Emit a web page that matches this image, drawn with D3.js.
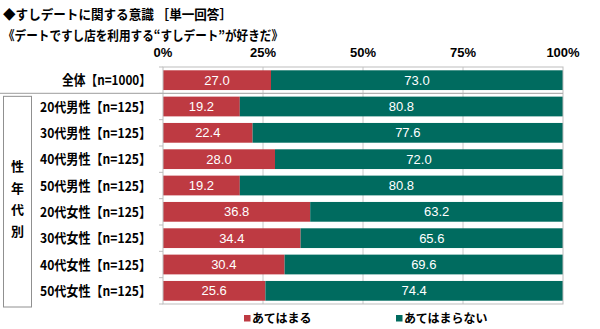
<!DOCTYPE html>
<html><head><meta charset="utf-8">
<script src="https://cdn.jsdelivr.net/npm/d3@7"></script>
<style>body{margin:0;background:#fff}svg{display:block}</style>
</head><body>
<script>
const categories = ["全体【n=1000】","20代男性【n=125】","30代男性【n=125】","40代男性【n=125】","50代男性【n=125】","20代女性【n=125】","30代女性【n=125】","40代女性【n=125】","50代女性【n=125】"];
const yesValues = [27.0,19.2,22.4,28.0,19.2,36.8,34.4,30.4,25.6];
const noValues  = [73.0,80.8,77.6,72.0,80.8,63.2,65.6,69.6,74.4];
const seriesNames = ["あてはまる","あてはまらない"];
const tickValues = [0,25,50,75,100];
const titleText = "◆すしデートに関する意識 ［単一回答］";
const subtitleText = "《デートですし店を利用する“すしデート”が好きだ》";
const groupLabel = ["性","年","代","別"];

(function(){
const W=600,H=329;
const font = "'Noto Sans CJK JP', sans-serif";
const colors = ["#BE3A42","#006B5F"];
const svg = d3.select("body").append("svg").attr("width",W).attr("height",H)
  .style("font-family",font);

const pL=163,pR=563,pT=67,pB=304;
const x = d3.scaleLinear().domain([0,100]).range([pL,pR]);
const y = d3.scaleBand().domain(categories).range([pT,pB]).paddingInner(0.25).paddingOuter(0.125);

svg.append("text").attr("x",3).attr("y",18.5).attr("font-size",13).attr("font-weight","bold")
  .attr("textLength",229).attr("lengthAdjust","spacingAndGlyphs").text(titleText);
svg.append("text").attr("x",3).attr("y",39.5).attr("font-size",13).attr("font-weight","bold")
  .attr("textLength",280).attr("lengthAdjust","spacingAndGlyphs").text(subtitleText);

// gridlines
svg.append("g").selectAll("line").data(tickValues.slice(1,4)).join("line")
  .attr("x1",d=>x(d)).attr("x2",d=>x(d)).attr("y1",pT).attr("y2",pB)
  .attr("stroke","#c8c8c8").attr("stroke-width",1);

// top axis labels
svg.append("g").selectAll("text").data(tickValues).join("text")
  .attr("x",d=>x(d)).attr("y",57).attr("text-anchor","middle")
  .attr("font-size",13).attr("font-weight","bold").attr("font-family","Arial, 'Liberation Sans', sans-serif")
  .text(d=>d+"%");

const stacked = categories.map((c,i)=>({c, parts:[{s:0,v:yesValues[i],k:0},{s:yesValues[i],v:noValues[i],k:1}]}));
const rows = svg.append("g").selectAll("g").data(stacked).join("g");
rows.selectAll("rect").data(d=>d.parts.map(p=>({...p,c:d.c}))).join("rect")
  .attr("x",p=>x(p.s)).attr("width",p=>x(p.s+p.v)-x(p.s))
  .attr("y",p=>y(p.c)).attr("height",y.bandwidth())
  .attr("fill",p=>colors[p.k]);
rows.selectAll("text").data(d=>d.parts.map(p=>({...p,c:d.c}))).join("text")
  .attr("x",p=>x(p.s+p.v/2)).attr("y",p=>y(p.c)+y.bandwidth()/2+4.5)
  .attr("text-anchor","middle").attr("fill","#fff").attr("font-size",13)
  .attr("font-family","Arial, 'Liberation Sans', sans-serif")
  .text(p=>p.v.toFixed(1));

// frame
const step = y.step();
svg.append("rect").attr("x",pL).attr("y",pT).attr("width",pR-pL).attr("height",pB-pT)
  .attr("fill","none").attr("stroke","#bdbdbd").attr("stroke-width",1);
// left ticks
svg.append("g").selectAll("line").data(d3.range(categories.length+1)).join("line")
  .attr("x1",pL-4).attr("x2",pL).attr("y1",i=>pT+i*step).attr("y2",i=>pT+i*step)
  .attr("stroke","#bdbdbd");
// divider under 全体
const divY = y(categories[1]) - (step - y.bandwidth())/2;
svg.append("line").attr("x1",0).attr("x2",pR).attr("y1",divY).attr("y2",divY)
  .attr("stroke","#b0b0b0").attr("stroke-width",1.2);

// category labels
svg.append("g").selectAll("text").data(categories).join("text")
  .attr("x",c=>c.startsWith("全体")?62:40).attr("y",c=>y(c)+y.bandwidth()/2+5)
  .attr("font-size",13.5).attr("font-weight","bold")
  .attr("textLength",c=>c.startsWith("全体")?89:111).attr("lengthAdjust","spacingAndGlyphs")
  .text(c=>c);

// group box
svg.append("rect").attr("x",3.5).attr("y",divY+3).attr("width",28).attr("height",pB-divY)
  .attr("fill","none").attr("stroke","#909090").attr("stroke-width",1);
svg.append("g").selectAll("text").data(groupLabel).join("text")
  .attr("x",17.5).attr("y",(d,i)=>171+i*21.5).attr("text-anchor","middle")
  .attr("font-size",13).attr("font-weight","bold").text(d=>d);

// legend
const legX=[244,396];
const leg = svg.append("g").selectAll("g").data(seriesNames).join("g")
  .attr("transform",(d,i)=>`translate(${legX[i]},323)`);
leg.append("rect").attr("x",0).attr("y",-8).attr("width",6.5).attr("height",6.5).attr("fill",(d,i)=>colors[i]);
leg.append("text").attr("x",8).attr("y",0).attr("font-size",12).attr("font-weight","bold").text(d=>d);
})();
</script>
</body></html>
